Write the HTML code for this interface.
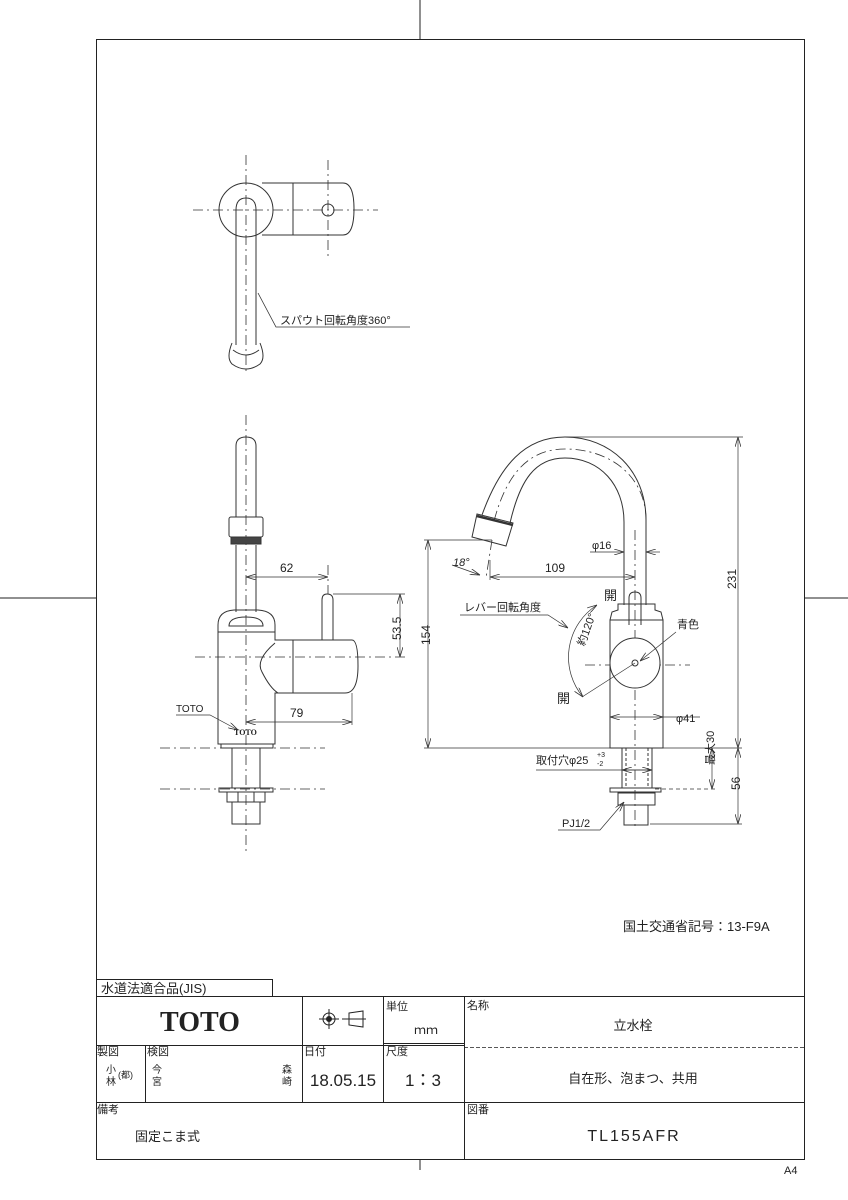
<!DOCTYPE html>
<html><head><meta charset="utf-8"><style>
html,body{margin:0;padding:0;background:#fff;}
svg{display:block;}
text{font-family:"Liberation Sans","Noto Sans CJK JP",sans-serif;fill:#222;}
</style></head><body>
<svg width="848" height="1200" viewBox="0 0 848 1200" xmlns="http://www.w3.org/2000/svg">
<defs>
<marker id="a" viewBox="0 0 10 6" refX="10" refY="3" markerWidth="10" markerHeight="6" orient="auto-start-reverse" markerUnits="userSpaceOnUse"><path d="M0,0 L10,3 L0,6" fill="none" stroke="#333" stroke-width="0.8"/></marker>
</defs>
<g stroke="#222" fill="none" stroke-width="1">
<rect x="96.5" y="39.5" width="708" height="1120"/>
<line x1="420" y1="0" x2="420" y2="39"/>
<line x1="420" y1="1159" x2="420" y2="1170"/>
<line x1="0" y1="598" x2="96" y2="598"/>
<line x1="804" y1="598" x2="848" y2="598"/>
</g>

<!-- TOP VIEW -->
<g stroke="#333" fill="none" stroke-width="1">
<g stroke-dasharray="10,4,2,4" stroke-width="0.8">
<line x1="246" y1="155" x2="246" y2="375"/>
<line x1="193" y1="210" x2="378" y2="210"/>
<line x1="328" y1="160" x2="328" y2="258"/>
</g>
<circle cx="246" cy="210" r="27"/>
<path d="M262,183 L343,183 Q354,183 354,209 Q354,235 343,235 L262,235"/>
<line x1="293" y1="183" x2="293" y2="235"/>
<circle cx="328" cy="210" r="6"/>
<path d="M236,345 L236,210 Q236,198 246,198 Q256,198 256,210 L256,345"/>
<path d="M232,343 Q226,358 232,364 Q246,374 260,364 Q266,358 260,343"/>
<path d="M233,350 Q246,360 259,350"/>
<path d="M258,293 L276,327 L410,327" stroke-width="0.8"/>
</g>
<text x="280" y="324" font-size="11">スパウト回転角度360°</text>

<!-- SIDE VIEW (left) -->
<g stroke="#333" fill="none" stroke-width="1">
<g stroke-dasharray="10,4,2,4" stroke-width="0.8">
<line x1="246" y1="415" x2="246" y2="855"/>
<line x1="160" y1="748" x2="325" y2="748"/>
<line x1="160" y1="789" x2="325" y2="789"/>
<line x1="195" y1="657" x2="405" y2="657"/>
<line x1="328" y1="565" x2="328" y2="594"/>
</g>
<path d="M236,517 L236,446 Q236,437 246,437 Q256,437 256,446 L256,517"/>
<rect x="229" y="517" width="34" height="20" rx="2"/>
<rect x="231" y="537" width="30" height="7" fill="#444"/>
<line x1="236" y1="545" x2="236" y2="612"/>
<line x1="256" y1="545" x2="256" y2="612"/>
<path d="M218,744 L218,625 Q218,611 234,610 L258,610 Q275,611 275,625 L275,640 L352,640 Q358,640 358,666 Q358,693 345,693 L275,693 L275,744 Z"/>
<path d="M229,626 Q229,617 246,617 Q263,617 263,626 Z"/>
<line x1="218" y1="632" x2="275" y2="632"/>
<path d="M275,643 Q255,660 262,672 Q270,688 278,693" />
<line x1="293" y1="640" x2="293" y2="693"/>
<path d="M322,640 L322,600 Q322,594 327,594 Q333,594 333,600 L333,640"/>
<rect x="221" y="744" width="52" height="4"/>
<rect x="232" y="748" width="28" height="40"/>
<rect x="219" y="788" width="54" height="4"/>
<rect x="227" y="792" width="38" height="10"/>
<line x1="238" y1="792" x2="238" y2="802"/><line x1="254" y1="792" x2="254" y2="802"/>
<rect x="232" y="802" width="28" height="22"/>
<g stroke-width="0.7">
<line x1="246" y1="577" x2="328" y2="577" marker-start="url(#a)" marker-end="url(#a)"/>
<line x1="333" y1="594" x2="405" y2="594"/>
<line x1="400" y1="594" x2="400" y2="657" marker-start="url(#a)" marker-end="url(#a)"/>
<line x1="352" y1="693" x2="352" y2="725"/>
<line x1="246" y1="722" x2="352" y2="722" marker-start="url(#a)" marker-end="url(#a)"/>
<path d="M176,715 L210,715 L238,730" marker-end="url(#a)"/>
</g>
</g>
<text x="280" y="572" font-size="12">62</text>
<text x="396" y="645" font-size="12" transform="rotate(-90 396 640)">53.5</text>
<text x="290" y="717" font-size="12">79</text>
<text x="176" y="712" font-size="10">TOTO</text>
<text x="234" y="735" font-size="8" font-weight="bold" style="font-family:'Liberation Serif',serif">TOTO</text>

<!-- RIGHT VIEW -->
<g stroke="#333" fill="none" stroke-width="1">
<g stroke-dasharray="10,4,2,4" stroke-width="0.8">
<line x1="635" y1="530" x2="635" y2="830"/>
<line x1="585" y1="665" x2="690" y2="665"/>
<path d="M646,600 L646,520 C646,478 612,449 565,449 C530,449 507,472 494,521"/>
<line x1="492" y1="540" x2="486" y2="578"/>
</g>
<path d="M646,605 L646,520 C646,470 610,437 565,437 C525,437 500,465 482,515"/>
<path d="M624,605 L624,522 C624,485 600,458 565,458 C535,458 520,480 510,523"/>
<path d="M477,514 L513,523 L506,546 L472,537 Z"/>
<line x1="477" y1="516" x2="513" y2="525" stroke-width="2.5"/>
<rect x="610" y="620" width="53" height="128"/>
<path d="M610,620 L612,612 L618,610 L618,604 L655,604 L655,610 L661,612 L663,620"/>
<path d="M629,625 L629,598 Q629,592 635,592 Q641,592 641,598 L641,625"/>
<circle cx="635" cy="663" r="25" fill="#fff"/>
<circle cx="635" cy="663" r="3"/>
<rect x="622" y="748" width="30" height="40"/>
<line x1="626" y1="748" x2="626" y2="788" stroke-dasharray="3,2"/><line x1="648" y1="748" x2="648" y2="788" stroke-dasharray="3,2"/>
<rect x="610" y="788" width="51" height="4"/>
<rect x="618" y="793" width="37" height="12"/>
<rect x="624" y="805" width="24" height="20"/>
<g stroke-width="0.7">
<line x1="565" y1="437" x2="743" y2="437"/>
<line x1="424" y1="748" x2="742" y2="748"/>
<line x1="738" y1="437" x2="738" y2="748" marker-start="url(#a)" marker-end="url(#a)"/>
<line x1="738" y1="748" x2="738" y2="824" marker-start="url(#a)" marker-end="url(#a)"/>
<line x1="650" y1="824" x2="742" y2="824"/>
<line x1="424" y1="540" x2="492" y2="540"/>
<line x1="428" y1="540" x2="428" y2="748" marker-start="url(#a)" marker-end="url(#a)"/>
<line x1="490" y1="577" x2="635" y2="577" marker-start="url(#a)" marker-end="url(#a)"/>
<line x1="490" y1="560" x2="490" y2="580"/>
<line x1="452" y1="565" x2="480" y2="575" marker-end="url(#a)"/>
<line x1="590" y1="552" x2="624" y2="552" marker-end="url(#a)"/>
<line x1="660" y1="552" x2="646" y2="552" marker-end="url(#a)"/>
<line x1="610" y1="717" x2="663" y2="717" marker-start="url(#a)" marker-end="url(#a)"/>
<line x1="663" y1="717" x2="700" y2="717"/>
<line x1="536" y1="770" x2="651" y2="770"/>
<line x1="622" y1="770" x2="652" y2="770" marker-start="url(#a)" marker-end="url(#a)"/>
<line x1="655" y1="789" x2="716" y2="789" stroke-dasharray="4,3"/>
<line x1="712" y1="748" x2="712" y2="789" marker-start="url(#a)" marker-end="url(#a)"/>
<path d="M558,830 L600,830 L624,802" marker-end="url(#a)"/>
<path d="M597,605 A62,62 0 0 0 583,697" marker-start="url(#a)" marker-end="url(#a)"/>
<line x1="635" y1="663" x2="582" y2="697"/>
<path d="M460,615 L548,615 L568,628" marker-end="url(#a)"/>
<path d="M676,632 L640,661" marker-end="url(#a)"/>
</g>
</g>
<text x="742" y="595" font-size="12" transform="rotate(-90 736 595)">231</text>
<text x="735" y="795" font-size="12" transform="rotate(-90 735 790)">56</text>
<text x="425" y="650" font-size="12" transform="rotate(-90 425 645)">154</text>
<text x="712" y="773" font-size="11" transform="rotate(-90 709 768)">最大30</text>
<text x="545" y="572" font-size="12">109</text>
<text x="453" y="566" font-size="11" font-style="italic">18°</text>
<text x="592" y="549" font-size="11">φ16</text>
<text x="676" y="722" font-size="11">φ41</text>
<text x="536" y="764" font-size="11">取付穴φ25</text>
<text x="597" y="757" font-size="7">+3</text>
<text x="597" y="766" font-size="7">-2</text>
<text x="562" y="827" font-size="11">PJ1/2</text>
<text x="604" y="600" font-size="13">開</text>
<text x="557" y="703" font-size="13">開</text>
<text x="464" y="611" font-size="11">レバー回転角度</text>
<text x="677" y="628" font-size="11">青色</text>
<text x="572" y="651" font-size="11" transform="rotate(-70 575 640)">約120°</text>
<text x="623" y="931" font-size="13">国土交通省記号：13-F9A</text>

<!-- TITLE BLOCK -->
<g stroke="#222" fill="none" stroke-width="1">
<rect x="96.5" y="979.5" width="176" height="17"/>
<line x1="96" y1="996.5" x2="804" y2="996.5"/>
<line x1="96" y1="1045.5" x2="464" y2="1045.5"/>
<line x1="383" y1="1043.5" x2="464" y2="1043.5"/>
<line x1="464" y1="1047.5" x2="804" y2="1047.5" stroke-dasharray="4,2" stroke-width="0.8"/>
<line x1="96" y1="1102.5" x2="804" y2="1102.5"/>
<line x1="302.5" y1="996" x2="302.5" y2="1102"/>
<line x1="383.5" y1="996" x2="383.5" y2="1102"/>
<line x1="464.5" y1="996" x2="464.5" y2="1159"/>
<line x1="145.5" y1="1045" x2="145.5" y2="1102"/>
<circle cx="329" cy="1019" r="6"/><circle cx="329" cy="1019" r="2.5" fill="#222"/>
<line x1="319" y1="1019" x2="339" y2="1019"/><line x1="329" y1="1009" x2="329" y2="1029"/>
<path d="M342,1019 L349,1019 M349,1013 L363,1011 L363,1027 L349,1025 Z M349,1019 L366,1019"/>
</g>
<text x="101" y="993" font-size="13">水道法適合品(JIS)</text>
<text x="200" y="1031" font-size="28" font-weight="bold" text-anchor="middle" style="font-family:'Liberation Serif',serif">TOTO</text>
<text x="386" y="1010" font-size="11">単位</text>
<text x="414" y="1034" font-size="12">ｍｍ</text>
<text x="467" y="1009" font-size="11">名称</text>
<text x="633" y="1030" font-size="13" text-anchor="middle">立水栓</text>
<text x="97" y="1055" font-size="11">製図</text>
<text x="147" y="1055" font-size="11">検図</text>
<text x="304" y="1055" font-size="11">日付</text>
<text x="386" y="1055" font-size="11">尺度</text>
<text x="106" y="1073" font-size="10">小</text><text x="106" y="1085" font-size="10">林</text>
<text x="118" y="1078" font-size="9">(都)</text>
<text x="152" y="1073" font-size="10">今</text><text x="152" y="1085" font-size="10">宮</text>
<text x="282" y="1073" font-size="10">森</text><text x="282" y="1085" font-size="10">崎</text>
<text x="343" y="1086" font-size="17" text-anchor="middle">18.05.15</text>
<text x="423" y="1086" font-size="17" text-anchor="middle">1：3</text>
<text x="633" y="1083" font-size="13" text-anchor="middle">自在形、泡まつ、共用</text>
<text x="97" y="1113" font-size="11">備考</text>
<text x="135" y="1141" font-size="13">固定こま式</text>
<text x="467" y="1113" font-size="11">図番</text>
<text x="634" y="1141" font-size="16" text-anchor="middle" letter-spacing="2">TL155AFR</text>
<text x="784" y="1174" font-size="11">A4</text>
</svg>
</body></html>
